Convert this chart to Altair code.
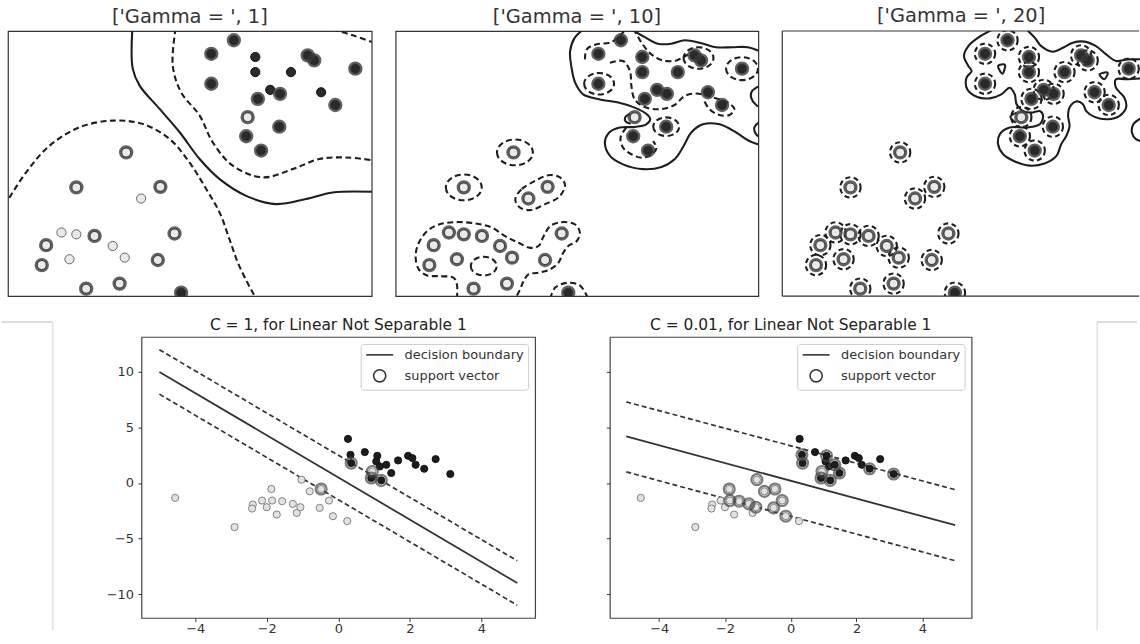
import altair as alt
import pandas as pd

# ------------------------------------------------------------------
# Top row: RBF-kernel SVM panels (coordinates in % of the panel box)
# ------------------------------------------------------------------
pt_x = [62.1, 55.9, 68.0, 82.4, 84.2, 95.5, 68.0, 77.8, 55.9, 72.1, 74.8, 68.7, 86.1, 90.0, 74.6, 65.5, 69.6, 47.6,
        65.9, 32.5, 18.8, 41.9, 36.6, 14.7, 18.8, 23.8, 10.5, 28.8, 45.8, 9.3, 16.9, 32.1, 41.2, 21.5, 30.7]
pt_y = [96.5, 91.4, 90.2, 90.8, 88.9, 85.8, 84.5, 84.5, 80.1, 77.8, 76.3, 74.4, 76.9, 72.1, 63.9, 60.3, 54.9, 1.3,
        67.5, 54.2, 41.0, 41.2, 36.8, 24.0, 23.3, 22.7, 19.2, 18.9, 23.6, 11.7, 13.9, 14.5, 13.6, 2.8, 4.7]
pt_cls = [1] * 18 + [0] * 17
sv_gamma1 = [1, 1, 0, 1, 1, 1, 0, 0, 1, 0, 1, 1, 0, 1, 1, 1, 1, 1,
             1, 1, 1, 1, 0, 0, 0, 1, 1, 0, 1, 1, 0, 0, 1, 1, 1]
sv_all = [1] * 35

# gamma = 1 contours
g1_solid_x = [34.2, 34.3, 36.2, 41.7, 47.2, 52.7, 58.2, 65.5, 73.7, 81.9, 89.3, 101]
g1_solid_y = [101, 85.8, 79.4, 70.6, 61.8, 51.7, 44.1, 37.8, 34.7, 36.6, 39.1, 39.3]
g1_up_x = [46.1, 45.3, 47.6, 52.7, 56.3, 61.8, 70.1, 78.3, 85.6, 92.9, 101]
g1_up_y = [101, 87.0, 76.9, 68.1, 58.0, 49.2, 44.8, 47.9, 51.7, 52.3, 51.1]
g1_corner_x = [89.3, 94.8, 101]
g1_corner_y = [100.6, 98.4, 95.4]
g1_lo_x = [-1, 5.0, 11.4, 19.7, 28.8, 37.1, 44.4, 49.9, 54.5, 58.2, 60.9, 63.6, 68.2]
g1_lo_y = [34.0, 46.7, 56.7, 63.7, 66.2, 64.9, 59.3, 50.4, 40.4, 31.5, 21.4, 11.3, -1]

# gamma = 10 contours
g10_sa_x = [52.2, 49.4, 48.1, 48.5, 49.5, 51.7, 56.3, 61.4, 65.9, 69.1, 70.2, 69.1, 65.9, 61.8, 58.9, 57.7,
            59.1, 62.7, 68.2, 73.3, 76.9, 79.4, 81.5, 84.7, 89.3, 93.9, 97.5, 101]
g10_sa_y = [101, 97.5, 92.4, 86.2, 80.5, 76.1, 74.2, 73.0, 71.1, 68.8, 66.7, 64.8, 63.8, 63.6, 61.7, 57.9,
            52.9, 49.7, 47.9, 48.7, 51.6, 56.6, 61.7, 64.8, 64.8, 61.7, 58.5, 56.8]
g10_sb_x = [64.5, 68.7, 72.3, 76.0, 79.7, 83.8, 88.4, 92.9, 97.1, 101]
g10_sb_y = [101, 97.7, 95.2, 95.2, 96.5, 95.6, 93.9, 93.9, 93.9, 92.0]
g10_sc_x = [101, 98.3, 98.0, 99.4, 101]
g10_sc_y = [79.6, 77.4, 74.9, 72.1, 71.0]
g10_sd_x = [101, 98.9, 99.4, 101]
g10_sd_y = [66.5, 63.6, 61.0, 59.5]
g10_notch_x = [64.6, 63.3, 63.4, 64.8]
g10_notch_y = [68.8, 67.4, 65.9, 65.0]
g10_d1_x = [52.2, 52.7, 55.4, 59.1, 61.8, 63.5]
g10_d1_y = [89.3, 93.1, 95.0, 95.6, 98.1, 101]
g10_d2_x = [59.1, 62.7, 64.6, 65.0, 65.9, 68.7, 72.8, 76.9, 79.7, 82.9, 87.5, 91.6, 93.4, 92.0, 89.3, 86.5, 84.9]
g10_d2_y = [88.0, 88.7, 84.9, 79.3, 74.2, 71.3, 70.5, 72.1, 75.5, 76.4, 74.9, 73.0, 70.5, 68.3, 68.3, 70.5, 74.2]
g10_d3_x = [65.6, 67.8, 70.5, 73.7, 77.4, 80.6]
g10_d3_y = [101, 95.6, 91.2, 88.9, 88.9, 91.2]
g10_d4_x = [63.6, 62.0, 62.7, 65.0, 67.8, 70.5, 71.9, 71.0]
g10_d4_y = [63.6, 59.8, 56.0, 53.5, 52.2, 53.3, 55.8, 58.5]
g10_d5_x = [16.9, 16.9, 16.0, 11.9, 8.7, 6.4, 5.5, 6.4, 8.7, 11.9, 16.5, 22.0, 26.6, 30.2, 33.9, 37.1, 39.4,
            40.8, 42.6, 45.8, 49.5, 50.8, 49.9, 47.6, 46.2, 44.9, 42.6, 39.4, 36.6, 35.3, 34.3, 33.0]
g10_d5_y = [-1, 4.4, 6.9, 7.5, 7.8, 10.1, 15.1, 20.1, 24.5, 27.0, 27.9, 27.4, 25.8, 22.6, 20.1, 18.2, 18.9,
            22.6, 26.4, 27.9, 27.0, 23.9, 20.7, 18.9, 16.3, 12.6, 10.1, 8.8, 8.2, 5.7, 2.5, -1]
g10_d6_x = [42.6, 44.0, 47.2, 50.8, 53.1]
g10_d6_y = [-1, 3.2, 5.0, 4.0, -1]
g10_pair_x = [33.0, 34.8, 38.5, 42.1, 45.3, 46.7, 44.9, 41.2, 37.5, 34.3]
g10_pair_y = [36.6, 40.4, 43.5, 45.6, 44.8, 41.6, 37.2, 34.7, 32.5, 33.4]
g10_ell_x = [32.9, 18.8, 95.5, 56.1, 83.5, 74.6, 24.3]
g10_ell_y = [54.2, 41.0, 85.8, 80.1, 89.8, 63.9, 11.3]
g10_ell_rx = [18, 18, 16, 15, 15, 13, 13]

# gamma = 20 contours
g20_sa_x = [58.6, 54.0, 51.3, 50.1, 51.3, 52.2, 50.8, 51.0, 53.6, 57.2, 60.4, 62.7, 64.1, 64.6, 66.4, 68.7,
            71.0, 71.9, 71.0, 67.3, 62.7, 60.0, 59.5, 60.9, 64.1, 68.2, 72.3, 75.6, 76.9, 78.3, 79.2, 78.8,
            79.2, 81.0, 82.9, 83.8, 86.1, 89.7, 93.0, 94.8, 94.3, 92.0, 92.0, 94.8, 99.5]
g20_sa_y = [101, 97.5, 94.3, 90.6, 86.8, 84.9, 82.4, 78.0, 75.2, 74.6, 76.1, 78.6, 76.1, 72.4, 69.8, 69.2,
            69.8, 68.0, 64.8, 63.6, 63.6, 61.1, 57.3, 53.5, 50.8, 49.2, 50.0, 52.9, 57.3, 60.4, 64.2, 68.0,
            71.1, 73.4, 72.4, 69.8, 67.6, 66.7, 68.0, 71.1, 74.9, 78.6, 81.8, 81.8, 82.2]
g20_sb_x = [67.0, 69.6, 71.4, 74.6, 77.4, 80.1, 83.3, 86.5, 89.3, 92.0, 95.2, 99.5]
g20_sb_y = [101, 97.5, 94.3, 92.2, 93.7, 95.6, 96.0, 94.3, 91.2, 88.7, 89.3, 89.3]
g20_bump_x = [99.5, 96.8, 96.4, 97.5, 99.5]
g20_bump_y = [67.6, 64.8, 61.7, 59.2, 58.3]
g20_notch_x = [64.6, 62.9, 64.4]
g20_notch_y = [69.2, 67.6, 65.4]
g20_h1_x = [59.5, 61.4, 60.7]
g20_h1_y = [86.8, 87.2, 83.9]
g20_h2_x = [87.5, 89.7, 88.8]
g20_h2_y = [83.7, 84.3, 81.8]

# ------------------------------------------------------------------
# Bottom row: linear SVM panels
# ------------------------------------------------------------------
bx_dark = [0.27, 0.34, 0.74, 0.36, 1.09, 1.06, 1.16, 1.34, 1.67, 1.95, 2.07, 2.16, 2.40, 2.72, 3.13, 1.48, 0.92, 1.20]
by_dark = [3.97, 2.54, 2.78, 1.79, 2.45, 1.94, 1.49, 1.64, 2.03, 2.45, 2.24, 1.64, 1.28, 2.15, 0.81, 0.90, 0.45, 0.24]
bx_light = [-4.56, -2.90, -1.87, -1.03, -0.80, -0.48, -0.52, -0.26, -0.15, 0.25, -2.39, -2.41, -2.13, -2.00,
            -1.85, -1.72, -1.57, -1.27, -1.16, -1.06, 0.95]
by_light = [-1.34, -3.97, -0.54, 0.30, -0.75, -0.54, -2.24, -1.58, -2.99, -3.43, -1.94, -2.30, -1.58, -2.18,
            -1.58, -2.84, -1.64, -1.88, -2.69, -2.18, 1.04]
sv1_x = [0.36, 0.92, 1.20, -0.48, 0.95]
sv1_y = [1.79, 0.45, 0.24, -0.54, 1.04]
sv2_x = [0.34, 0.36, 1.09, 1.34, 0.92, 1.20, 1.48, 2.40, 3.13, 0.95, -1.87, -1.03, -0.80, -0.48, -0.52,
         -0.26, -0.15, -1.57, -1.27, -1.06, -1.85]
sv2_y = [2.54, 1.79, 2.45, 1.64, 0.45, 0.24, 0.90, 1.28, 0.81, 1.04, -0.54, 0.30, -0.75, -0.54, -2.24,
         -1.58, -2.99, -1.64, -1.88, -2.18, -1.58]
line_x = [-5, 5]
c1_solid_y = [10, -9]
c1_upper_y = [12, -7]
c1_lower_y = [8, -11]
c2_solid_y = [4.2, -3.8]
c2_upper_y = [7.3, -0.6]
c2_lower_y = [1.0, -7.0]

FONT = "DejaVu Sans"
INK = "#1e1e1e"
DASH = [6, 3.5]
ELLIPSE = "M-1,0A1,0.72 0 1,0 1,0A1,0.72 0 1,0 -1,0Z"
TOP_H = 266
BOT_H = 282
P3_W = 359


def line_df(segments):
    rows = []
    for sid, (xs, ys) in enumerate(segments):
        for i, (x, y) in enumerate(zip(xs, ys)):
            rows.append({"seg": sid, "i": i, "x": x, "y": y})
    return pd.DataFrame(rows)


def top_panel(title, width, xmax, solid_open, solid_closed, dash_open, dash_closed,
              ellipses, ring_d, sv_mask, yaxis, frame=True):
    xs = alt.Scale(domain=[0, xmax], nice=False, zero=False)
    ys = alt.Scale(domain=[0, 100], nice=False, zero=False)
    ex = alt.X("x:Q", scale=xs, axis=None)
    ey = alt.Y("y:Q", scale=ys, axis=yaxis)
    layers = []

    def lines(segs, interp, dashed):
        if not segs:
            return
        kw = dict(clip=True, color=INK, strokeWidth=2.1, interpolate=interp)
        if dashed:
            kw["strokeDash"] = DASH
        layers.append(alt.Chart(line_df(segs)).mark_line(**kw).encode(
            x=ex, y=ey, detail="seg:N", order="i:Q"))

    lines(solid_open, "catmull-rom", False)
    lines(solid_closed, "cardinal-closed", False)
    lines(dash_open, "catmull-rom", True)
    lines(dash_closed, "cardinal-closed", True)

    if ellipses is not None:
        exs, eys, erx = ellipses
        edf = pd.DataFrame({"x": exs, "y": eys, "s": [(2 * r) ** 2 for r in erx]})
        layers.append(alt.Chart(edf).mark_point(
            shape=ELLIPSE, filled=False, stroke=INK, strokeWidth=2.1, strokeDash=DASH,
            opacity=1, clip=True).encode(x=ex, y=ey, size=alt.Size("s:Q", scale=None)))

    pdf = pd.DataFrame({"x": pt_x, "y": pt_y, "cls": pt_cls, "sv": sv_mask})
    if ring_d:
        layers.append(alt.Chart(pdf).mark_point(
            shape="circle", filled=False, stroke=INK, strokeWidth=2.1, strokeDash=[5, 3.5],
            size=3.1416 * (ring_d / 2) ** 2, opacity=1, clip=True).encode(x=ex, y=ey))

    layers.append(alt.Chart(pdf).mark_point(
        shape="circle", filled=True, size=85, strokeWidth=1, opacity=1, clip=True).encode(
        x=ex, y=ey,
        fill=alt.Fill("cls:N", scale=alt.Scale(domain=[0, 1], range=["#e9e9e9", "#2a2a2a"]), legend=None),
        stroke=alt.Stroke("cls:N", scale=alt.Scale(domain=[0, 1], range=["#666666", "#111111"]), legend=None)))

    layers.append(alt.Chart(pdf).transform_filter("datum.sv == 1").mark_point(
        shape="circle", filled=False, size=125, strokeWidth=3.2, stroke="#3a3a3a",
        opacity=0.8, clip=True).encode(x=ex, y=ey))

    if not frame:
        fdf = pd.DataFrame({"k": [0]})
        rule = alt.Chart(fdf).mark_rule(color="#333333", strokeWidth=1.2)
        layers.append(rule.encode(x=alt.value(0), y=alt.value(0), y2=alt.value(TOP_H)))
        layers.append(rule.encode(x=alt.value(0), x2=alt.value(width - 1), y=alt.value(0)))
        layers.append(rule.encode(x=alt.value(0), x2=alt.value(width - 1), y=alt.value(TOP_H)))

    ch = alt.layer(*layers).properties(
        width=width, height=TOP_H,
        title=alt.TitleParams(title, fontSize=19.5, font=FONT, fontWeight="normal", color="#333333",
                              offset=4, frame="group", anchor="middle"))
    if not frame:
        ch = ch.properties(view=alt.ViewBackground(stroke="transparent", strokeWidth=0))
    return ch


edge_axis = alt.Axis(labels=False, ticks=False, domain=False, grid=False, title=None,
                     minExtent=7, maxExtent=7)

p1 = top_panel("['Gamma = ', 1]", 365, 100,
               [(g1_solid_x, g1_solid_y)], [],
               [(g1_up_x, g1_up_y), (g1_corner_x, g1_corner_y), (g1_lo_x, g1_lo_y)], [],
               None, 0, sv_gamma1, edge_axis)
p2 = top_panel("['Gamma = ', 10]", 364, 100,
               [(g10_sa_x, g10_sa_y), (g10_sb_x, g10_sb_y), (g10_sc_x, g10_sc_y), (g10_sd_x, g10_sd_y),
                (g10_notch_x, g10_notch_y)], [],
               [(g10_d1_x, g10_d1_y), (g10_d2_x, g10_d2_y), (g10_d3_x, g10_d3_y), (g10_d4_x, g10_d4_y),
                (g10_d5_x, g10_d5_y), (g10_d6_x, g10_d6_y)],
               [(g10_pair_x, g10_pair_y)],
               (g10_ell_x, g10_ell_y, g10_ell_rx), 0, sv_all, None)
p3 = top_panel("['Gamma = ', 20]", P3_W, 100 * P3_W / 364,
               [(g20_sa_x, g20_sa_y), (g20_sb_x, g20_sb_y), (g20_bump_x, g20_bump_y),
                (g20_notch_x, g20_notch_y)],
               [(g20_h1_x, g20_h1_y), (g20_h2_x, g20_h2_y)],
               [], [], None, 23, sv_all, None, frame=False)

BOT_SPACING = 43
Y4_EXT = 40
Y5_EXT = 30
SPACER_W = 145 - 8 - BOT_SPACING - Y4_EXT - 4
SPACER2_W = 123


def bottom_panel(title, width, solid_y, upper_y, lower_y, svx, svy, y_labels, y_extent):
    xs = alt.Scale(domain=[-5.5, 5.5], nice=False, zero=False)
    ys = alt.Scale(domain=[-12.15, 13.15], nice=False, zero=False)
    xa = alt.Axis(values=[-4, -2, 0, 2, 4], format="d", title=None, grid=False, domain=False,
                  tickSize=3.5, tickColor="#333333", tickWidth=1, labelFontSize=13,
                  labelColor="#333333", labelFont=FONT, labelPadding=1.5)
    ya = alt.Axis(values=[-10, -5, 0, 5, 10], format="d", title=None, grid=False, domain=False,
                  tickSize=3.5, tickColor="#333333", tickWidth=1, labelFontSize=13,
                  labelColor="#333333", labelFont=FONT, labelPadding=4.5, labels=y_labels,
                  minExtent=y_extent, maxExtent=y_extent)
    ex = alt.X("x:Q", scale=xs, axis=xa)
    ey = alt.Y("y:Q", scale=ys, axis=ya)

    solid = alt.Chart(pd.DataFrame({"x": line_x, "y": solid_y})).mark_line(
        color="#333333", strokeWidth=1.8).encode(x=ex, y=ey)
    ddf = pd.DataFrame({"x": line_x + line_x, "y": upper_y + lower_y, "seg": ["u", "u", "l", "l"]})
    dashed = alt.Chart(ddf).mark_line(color="#333333", strokeWidth=1.7, strokeDash=[5, 3]).encode(
        x=ex, y=ey, detail="seg:N")
    pdf = pd.DataFrame({"x": bx_dark + bx_light, "y": by_dark + by_light,
                        "cls": [1] * len(bx_dark) + [0] * len(bx_light)})
    pts = alt.Chart(pdf).mark_point(shape="circle", filled=True, size=52, strokeWidth=0.9, opacity=1).encode(
        x=ex, y=ey,
        fill=alt.Fill("cls:N", scale=alt.Scale(domain=[0, 1], range=["#e2e2e2", "#1c1c1c"]), legend=None),
        stroke=alt.Stroke("cls:N", scale=alt.Scale(domain=[0, 1], range=["#777777", "#111111"]), legend=None))
    sdf = pd.DataFrame({"x": svx, "y": svy, "kind": ["support vector"] * len(svx)})
    svs = alt.Chart(sdf).mark_point(filled=False, size=120, strokeWidth=2.2, stroke="#444444",
                                    opacity=0.7).encode(
        x=ex, y=ey,
        shape=alt.Shape("kind:N",
                        scale=alt.Scale(domain=["decision boundary", "support vector"],
                                        range=["M-2.2,0L2.2,0", "circle"]),
                        legend=alt.Legend(title=None, orient="top-right", offset=7, padding=4,
                                          fillColor="white", strokeColor="#cccccc", cornerRadius=3,
                                          labelFontSize=13, labelColor="#333333", labelFont=FONT,
                                          symbolSize=150, symbolStrokeWidth=1.6,
                                          symbolStrokeColor="#333333", symbolFillColor="transparent",
                                          symbolOpacity=1, rowPadding=4, symbolOffset=8,
                                          labelOffset=18)))
    return alt.layer(dashed, solid, pts, svs).properties(
        width=width, height=BOT_H,
        view=alt.ViewBackground(stroke="#444444", strokeWidth=1.2),
        title=alt.TitleParams(title, fontSize=15.5, font=FONT, fontWeight="normal", color="#222222",
                              offset=3, frame="group", anchor="middle"))


# blank strips beside the bottom panels (edges of pasted screenshots)
fdf0 = pd.DataFrame({"k": [0]})
spacer_l = alt.layer(
    alt.Chart(fdf0).mark_rule(color="#bbbbbb", strokeWidth=1).encode(
        x=alt.value(-6.5), x2=alt.value(45), y=alt.value(-15)),
    alt.Chart(fdf0).mark_rule(color="#e2e2e2", strokeWidth=1.5).encode(
        x=alt.value(45), y=alt.value(-15), y2=alt.value(294)),
).properties(width=SPACER_W, height=BOT_H, view=alt.ViewBackground(stroke="transparent", strokeWidth=0))
spacer_r = alt.layer(
    alt.Chart(fdf0).mark_rule(color="#bbbbbb", strokeWidth=1).encode(
        x=alt.value(82), x2=alt.value(SPACER2_W - 1), y=alt.value(-15)),
    alt.Chart(fdf0).mark_rule(color="#e2e2e2", strokeWidth=1.5).encode(
        x=alt.value(82), y=alt.value(-15), y2=alt.value(294)),
).properties(width=SPACER2_W, height=BOT_H, view=alt.ViewBackground(stroke="transparent", strokeWidth=0))

p4 = bottom_panel("C = 1, for Linear Not Separable 1", 395, c1_solid_y, c1_upper_y, c1_lower_y,
                  sv1_x, sv1_y, True, Y4_EXT)
p5 = bottom_panel("C = 0.01, for Linear Not Separable 1", 363, c2_solid_y, c2_upper_y, c2_lower_y,
                  sv2_x, sv2_y, False, Y5_EXT)

RES = dict(x="independent", y="independent", fill="independent", stroke="independent",
           shape="independent", size="independent")

top = alt.hconcat(p1, p2, p3, spacing=22).resolve_scale(**RES)
bottom = alt.hconcat(spacer_l, p4, p5, spacer_r, spacing=BOT_SPACING).resolve_scale(**RES).resolve_legend(
    shape="independent")

chart = alt.vconcat(top, bottom, spacing=20).resolve_scale(**RES).properties(
    padding={"left": 0, "top": 4, "right": 0, "bottom": 0},
    background="white",
).configure_view(stroke="#333333", strokeWidth=1.2)

chart.save("out.html", embed_options={"renderer": "svg", "actions": False})
